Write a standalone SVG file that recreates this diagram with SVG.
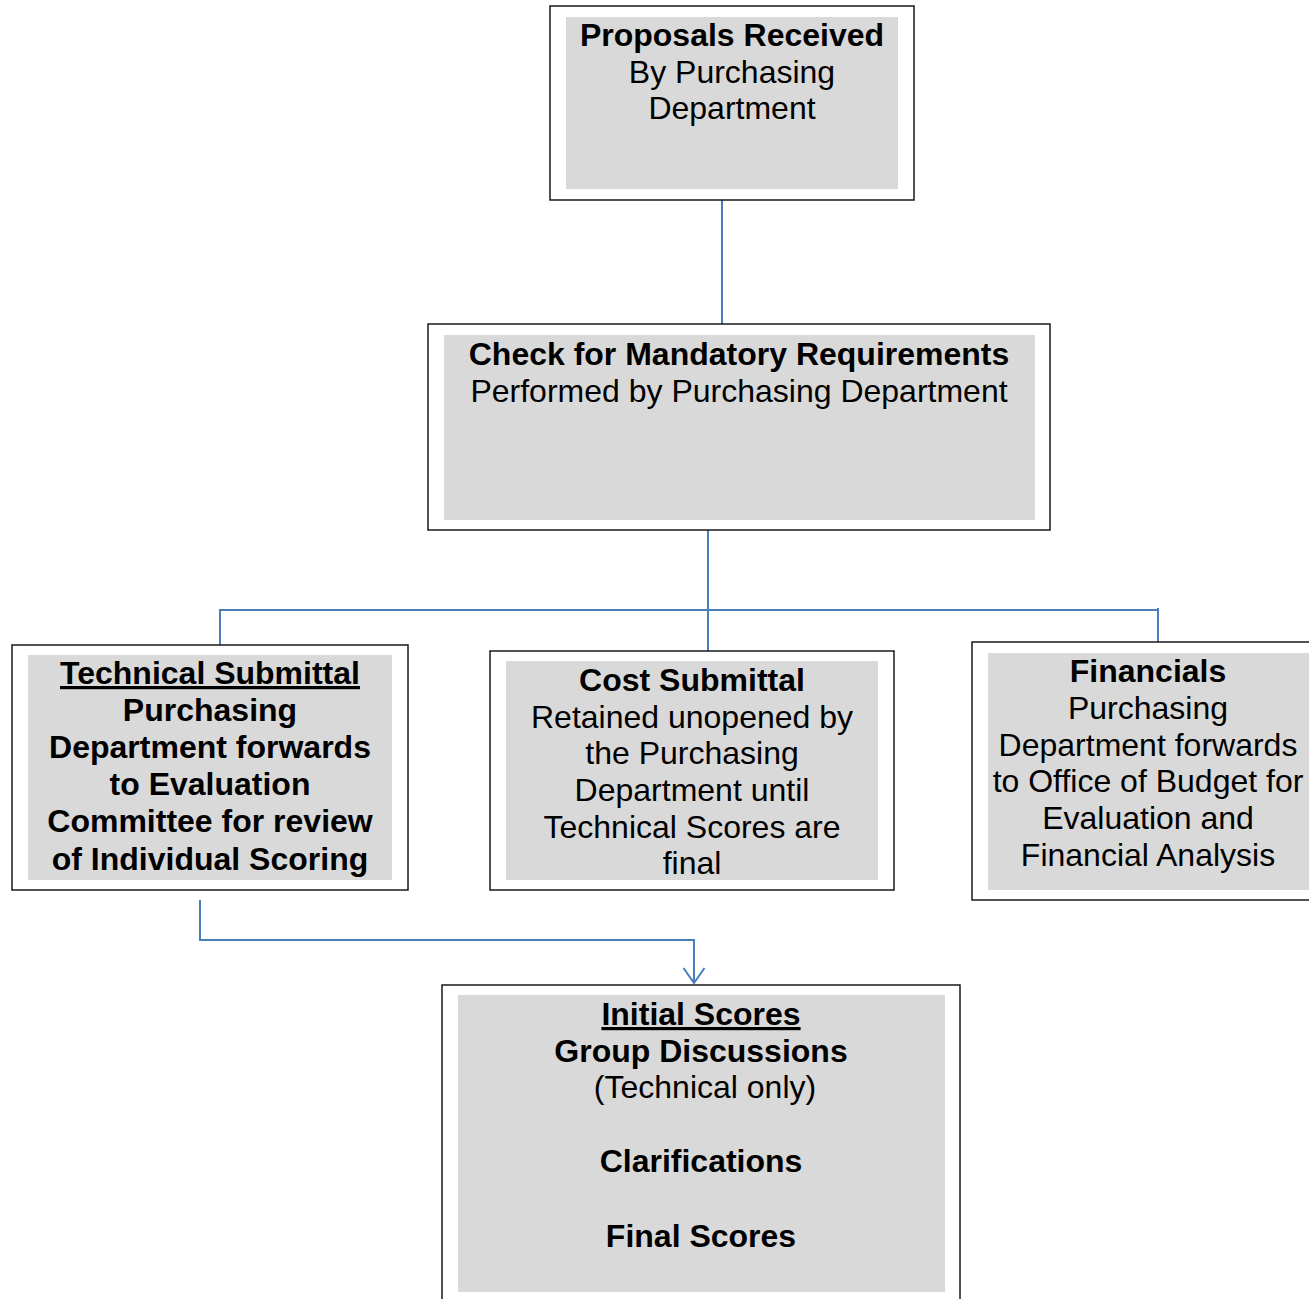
<svg xmlns="http://www.w3.org/2000/svg" width="1309" height="1299" viewBox="0 0 1309 1299">
<style>
.outer{fill:#fff;stroke:#1a1a1a;stroke-width:1.5}
.inner{fill:#d9d9d9}
text{font-family:"Liberation Sans",Arial,sans-serif;font-size:32px;fill:#000;text-anchor:middle}
.b{font-weight:bold}
.u{text-decoration:underline}
.c{fill:none;stroke:#4a7ebb;stroke-width:2}
</style>
<defs>
<marker id="arr" viewBox="0 0 20 24" refX="18" refY="12" markerWidth="20" markerHeight="24" markerUnits="userSpaceOnUse" orient="auto">
<path d="M3 1.5 L18 12 L3 22.5" fill="none" stroke="#4a7ebb" stroke-width="2"/>
</marker>
</defs>
<g id="connectors">
<line class="c" x1="722" y1="200" x2="722" y2="324"/>
<line class="c" x1="708" y1="530" x2="708" y2="651"/>
<line class="c" x1="219" y1="610" x2="1159" y2="610"/>
<line class="c" x1="220" y1="610" x2="220" y2="645"/>
<line class="c" x1="1158" y1="608" x2="1158" y2="642"/>
<polyline class="c" points="200,900 200,940 694,940 694,983" marker-end="url(#arr)"/>
</g>
<g id="n1">
<rect class="outer" x="550" y="6" width="364" height="194"/>
<rect class="inner" x="566" y="17" width="332" height="172"/>
<text x="732" y="46" class="b">Proposals Received</text>
<text x="732" y="83">By Purchasing</text>
<text x="732" y="119">Department</text>
</g>
<g id="n2">
<rect class="outer" x="428" y="324" width="622" height="206"/>
<rect class="inner" x="444" y="335" width="591" height="185"/>
<text x="739" y="365" class="b">Check for Mandatory Requirements</text>
<text x="739" y="402">Performed by Purchasing Department</text>
</g>
<g id="n3">
<rect class="outer" x="12" y="645" width="396" height="245"/>
<rect class="inner" x="28" y="655" width="364" height="225"/>
<text x="210" y="684" class="b u">Technical Submittal</text>
<text x="210" y="721" class="b">Purchasing</text>
<text x="210" y="758" class="b">Department forwards</text>
<text x="210" y="795" class="b">to Evaluation</text>
<text x="210" y="832" class="b">Committee for review</text>
<text x="210" y="870" class="b">of Individual Scoring</text>
</g>
<g id="n4">
<rect class="outer" x="490" y="651" width="404" height="239"/>
<rect class="inner" x="506" y="661" width="372" height="219"/>
<text x="692" y="691" class="b">Cost Submittal</text>
<text x="692" y="728">Retained unopened by</text>
<text x="692" y="764">the Purchasing</text>
<text x="692" y="801">Department until</text>
<text x="692" y="838">Technical Scores are</text>
<text x="692" y="874">final</text>
</g>
<g id="n5">
<rect class="outer" x="972" y="642" width="345" height="258"/>
<rect class="inner" x="988" y="653" width="321" height="237"/>
<text x="1148" y="682" class="b">Financials</text>
<text x="1148" y="719">Purchasing</text>
<text x="1148" y="756">Department forwards</text>
<text x="1148" y="792">to Office of Budget for</text>
<text x="1148" y="829">Evaluation and</text>
<text x="1148" y="866">Financial Analysis</text>
</g>
<g id="n6">
<rect class="outer" x="442" y="985" width="518" height="330"/>
<rect class="inner" x="458" y="995" width="487" height="297"/>
<text x="701" y="1025" class="b u">Initial Scores</text>
<text x="701" y="1062" class="b">Group Discussions</text>
<text x="705" y="1098">(Technical only)</text>
<text x="701" y="1172" class="b">Clarifications</text>
<text x="701" y="1247" class="b">Final Scores</text>
</g>
</svg>
